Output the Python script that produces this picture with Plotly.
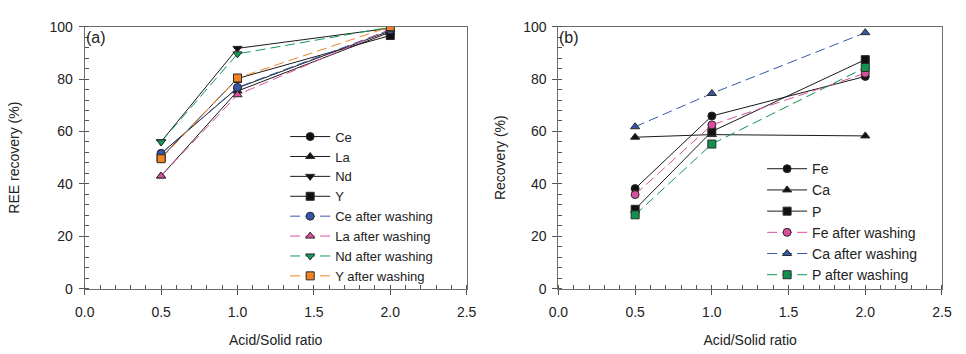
import plotly.graph_objects as go

# Acid/solid ratios tested
ratio = [0.5, 1.0, 2.0]

# Panel (a): REE recovery (%)
ce = [51.6, 76.6, 98.4]
la = [43.0, 75.4, 97.9]
nd = [56.1, 91.7, 99.4]
y_ree = [50.0, 80.2, 96.6]
ce_w = [51.6, 76.8, 98.8]
la_w = [43.0, 74.0, 99.0]
nd_w = [56.0, 89.6, 99.8]
y_w = [49.6, 80.4, 100.0]

# Panel (b): gangue element recovery (%)
fe = [38.2, 65.9, 81.0]
ca = [57.8, 58.8, 58.3]
p = [30.3, 60.0, 87.4]
fe_w = [35.9, 62.5, 82.2]
ca_w = [61.8, 74.5, 97.7]
p_w = [28.2, 55.2, 84.4]

xticks = [0.0, 0.5, 1.0, 1.5, 2.0, 2.5]
yticks = [0, 20, 40, 60, 80, 100]

FONT = "Liberation Sans, Arial, sans-serif"
EDGE = "#2a2a2a"
DASH = "10px,5px"

fig = go.Figure()


def add(x, y, name, symbol, color, dashed, xa, ya, legend):
    fig.add_trace(go.Scatter(
        x=x, y=y, name=name, mode="lines+markers",
        xaxis=xa, yaxis=ya, legend=legend,
        line=dict(color=color if dashed else "#1a1a1a", width=1,
                  dash=DASH if dashed else "solid"),
        marker=dict(symbol=symbol, size=8, color=color if dashed else "#111111",
                    line=dict(color=EDGE, width=1)),
    ))


# Panel (a)
add(ratio, ce, "Ce", "circle", "#111", False, "x", "y", "legend")
add(ratio, la, "La", "triangle-up", "#111", False, "x", "y", "legend")
add(ratio, nd, "Nd", "triangle-down", "#111", False, "x", "y", "legend")
add(ratio, y_ree, "Y", "square", "#111", False, "x", "y", "legend")
add(ratio, ce_w, "Ce after washing", "circle", "#3556a8", True, "x", "y", "legend")
add(ratio, la_w, "La after washing", "triangle-up", "#dc4f9c", True, "x", "y", "legend")
add(ratio, nd_w, "Nd after washing", "triangle-down", "#17995a", True, "x", "y", "legend")
add(ratio, y_w, "Y after washing", "square", "#f28322", True, "x", "y", "legend")

# Panel (b)
add(ratio, fe, "Fe", "circle", "#111", False, "x2", "y2", "legend2")
add(ratio, ca, "Ca", "triangle-up", "#111", False, "x2", "y2", "legend2")
add(ratio, p, "P", "square", "#111", False, "x2", "y2", "legend2")
add(ratio, fe_w, "Fe after washing", "circle", "#d84f9e", True, "x2", "y2", "legend2")
add(ratio, ca_w, "Ca after washing", "triangle-up", "#3556a8", True, "x2", "y2", "legend2")
add(ratio, p_w, "P after washing", "square", "#12914f", True, "x2", "y2", "legend2")

W, H = 966, 354
y_dom = [1 - 294 / H, 1 - 19.5 / H]

axis_common = dict(
    showline=True, linecolor="#6e6e6e", linewidth=1, mirror=True,
    ticks="outside", ticklen=5, tickcolor="#555", tickwidth=1,
    showgrid=False, zeroline=False,
    tickfont=dict(family=FONT, size=14, color="#222"),
    title_font=dict(family=FONT, size=14, color="#222"),
)

xaxis_common = dict(
    axis_common, range=[0, 2.5], tickvals=xticks, tickformat=".1f",
    minor=dict(dtick=0.1, ticks="inside", ticklen=4, tickcolor="#555", showgrid=False),
    title_text="Acid/Solid ratio", title_standoff=16, ticklabelstandoff=5,
)
yaxis_common = dict(
    axis_common, range=[0, 100], tickvals=yticks, ticklabelstandoff=3,
    minor=dict(dtick=4, ticks="inside", ticklen=4, tickcolor="#555", showgrid=False),
)

legend_style = dict(xanchor="left", yanchor="top", bgcolor="rgba(0,0,0,0)",
                    tracegroupgap=0, itemwidth=40)

fig.update_layout(
    width=W, height=H,
    margin=dict(l=0, r=0, t=0, b=0),
    paper_bgcolor="white", plot_bgcolor="white",
    font=dict(family=FONT, size=14, color="#222"),
    showlegend=True,
    xaxis=dict(xaxis_common, domain=[76.3 / W, 466.3 / W], anchor="y"),
    yaxis=dict(yaxis_common, domain=y_dom, anchor="x",
               title_text="REE recovery (%)", title_standoff=26),
    xaxis2=dict(xaxis_common, domain=[560 / W, 951.7 / W], anchor="y2"),
    yaxis2=dict(yaxis_common, domain=y_dom, anchor="x2",
                title_text="Recovery (%)", title_standoff=14),
    legend=dict(legend_style, x=281 / W, y=1 - 119 / H,
                font=dict(family=FONT, size=13, color="#222")),
    legend2=dict(legend_style, x=768 / W, y=1 - 152 / H,
                 font=dict(family=FONT, size=14, color="#222")),
    annotations=[
        dict(text="(a)", x=76 / W, y=1 - 31 / H, xref="paper", yref="paper",
             xanchor="left", yanchor="middle", showarrow=False,
             font=dict(family=FONT, size=16, color="#222")),
        dict(text="(b)", x=559 / W, y=1 - 31 / H, xref="paper", yref="paper",
             xanchor="left", yanchor="middle", showarrow=False,
             font=dict(family=FONT, size=16, color="#222")),
    ],
)

fig.write_html("out.html")
